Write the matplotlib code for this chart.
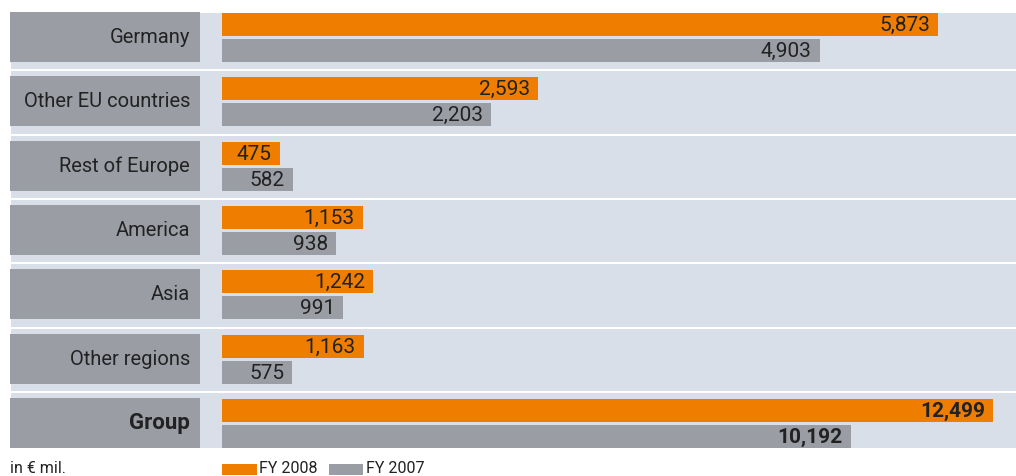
import matplotlib
matplotlib.use('Agg')
import matplotlib.pyplot as plt
from matplotlib.patches import Rectangle

# Daten (in Mio. EUR)
regions = ['Germany', 'Other EU countries', 'Rest of Europe', 'America', 'Asia', 'Other regions']
fy2008 = [5873, 2593, 475, 1153, 1242, 1163]
fy2007 = [4903, 2203, 582, 938, 991, 575]
group_label = 'Group'
group_2008 = 12499
group_2007 = 10192

orange = '#ef7d00'
grey = '#9b9da5'
panel = '#d9dfe8'
txt = '#222222'
plt.rcParams['font.family'] = ['Roboto', 'DejaVu Sans']

W, H = 1016, 477
fig = plt.figure(figsize=(W / 100, H / 100), dpi=100)

# Hintergrund in Pixelkoordinaten
bg = fig.add_axes([0, 0, 1, 1])
bg.set_xlim(0, W)
bg.set_ylim(H, 0)
bg.axis('off')

top0 = 13
pitch = 64.33
n = len(regions) + 1
bar_x0 = 222

bg.add_patch(Rectangle((11, 14), W - 11, 449 - 14, color=panel, lw=0))
for i in range(1, n):
    y = top0 + i * pitch - 7
    bg.add_patch(Rectangle((11, y), W - 11, 2, color='white', lw=0))

labels = regions + [group_label]
for i, lab in enumerate(labels):
    t = top0 + i * pitch
    bg.add_patch(Rectangle((10, t), 190, 50, color=grey, lw=0))
    if lab == group_label:
        bg.text(190, t + 24, lab, ha='right', va='center', fontsize=16, color=txt,
                fontweight='bold')
    else:
        bg.text(190, t + 24.5, lab, ha='right', va='center', fontsize=14.5, color=txt)

# Legende
bg.text(10, 469, 'in € mil.', ha='left', va='center', fontsize=11.5, color=txt)
bg.add_patch(Rectangle((222, 465), 35, 11, color=orange, lw=0))
bg.text(259, 469, 'FY 2008', ha='left', va='center', fontsize=11.5, color=txt)
bg.add_patch(Rectangle((329, 465), 34, 11, color=grey, lw=0))
bg.text(366, 469, 'FY 2007', ha='left', va='center', fontsize=11.5, color=txt)


def bar_axes(y_top_px, rows, xmax):
    h = rows * pitch
    ax = fig.add_axes([bar_x0 / W, 1 - (y_top_px + h) / H, (W - bar_x0) / W, h / H])
    ax.set_xlim(0, xmax)
    ax.set_ylim(rows, 0)
    ax.set_facecolor('none')
    ax.axis('off')
    return ax


def draw_bars(ax, v08, v07, bold=False):
    y08 = [i + 12.5 / pitch for i in range(len(v08))]
    y07 = [i + 38.5 / pitch for i in range(len(v07))]
    ax.barh(y08, v08, height=23 / pitch, left=0, color=orange, lw=0)
    ax.barh(y07, v07, height=23 / pitch, left=0, color=grey, lw=0)
    for y, v in list(zip(y08, v08)) + list(zip(y07, v07)):
        ax.annotate(f'{v:,}', xy=(v, y), xytext=(-8, 0), textcoords='offset pixels',
                    ha='right', va='center', fontsize=15 if bold else 15, color=txt,
                    fontweight='bold' if bold else 'normal')


# Regionen und Konzern haben unterschiedliche Skalen
ax1 = bar_axes(top0, len(regions), (W - bar_x0) * 5873 / 716)
draw_bars(ax1, fy2008, fy2007)

ax2 = bar_axes(top0 + len(regions) * pitch, 1, (W - bar_x0) * 12499 / 771)
draw_bars(ax2, [group_2008], [group_2007], bold=True)

fig.savefig('out.png', dpi=100)
